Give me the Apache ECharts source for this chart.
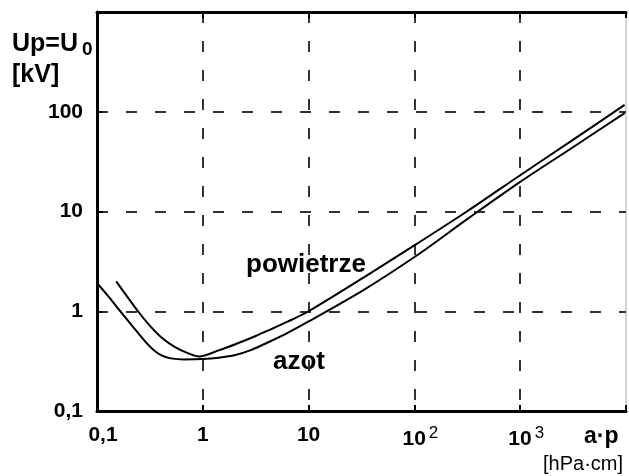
<!DOCTYPE html>
<html>
<head>
<meta charset="utf-8">
<script src="https://cdn.jsdelivr.net/npm/echarts@6/dist/echarts.min.js"></script>
<style>
	html, body { margin: 0; padding: 0; background: #fff; }
	#chart { width: 629px; height: 476px; }
</style>
</head>
<body>
<div id="chart"></div>
<script>
// 	dane (a·p [hPa·cm], Up [kV])
const powietrzeX = [0.152, 0.2, 0.244, 0.32, 0.41, 0.546, 0.74, 0.92, 1.41, 2.03, 3.12, 4.16, 6.41, 10, 33.6, 106, 313, 1000, 3000, 9700];
const powietrzeY = [1.99, 1.33, 1.0, 0.705, 0.542, 0.437, 0.376, 0.352, 0.405, 0.467, 0.562, 0.642, 0.79, 1.0, 2.2, 4.76, 10, 23.1, 50.5, 117];

const azotX = [0.1, 0.131, 0.166, 0.218, 0.286, 0.347, 0.41, 0.5, 0.664, 1.0, 1.41, 2.03, 2.88, 4.16, 6.41, 10, 33.6, 106, 313, 1000, 3000, 9700];
const azotY = [1.92, 1.37, 1.0, 0.702, 0.496, 0.405, 0.36, 0.337, 0.329, 0.332, 0.342, 0.364, 0.41, 0.489, 0.611, 0.79, 1.65, 3.64, 8.33, 19.8, 42.6, 97];

const xTickLabels = ['0,1', '1', '10', '10^2', '10^3', ''];
const yTickLabels = ['0,1', '1', '10', '100', ''];

(function() {
	let myChart = echarts.init(document.getElementById('chart'));

	function pairs(xs, ys) {
		return xs.map(function(x, i) { return [x, ys[i]]; });
	}
	function idx(v, base) {
		return Math.round(Math.log10(v) - Math.log10(base));
	}

	let dashed = {
		show: true,
		lineStyle: { color: '#333', width: 2, type: [11, 18] }
	};
	let font = 'Liberation Sans, Arial, sans-serif';

	let option = {
		backgroundColor: '#fff',
		animation: false,
		grid: {
			left: 97,
			right: 0,
			top: 12,
			bottom: 65,
			show: true,
			borderColor: '#aaa',
			borderWidth: 1
		},
		xAxis: [
			{
				type: 'log',
				logBase: 10,
				min: 0.1,
				max: 10000,
				axisLine: { show: true, onZero: false, lineStyle: { color: '#000', width: 3 } },
				axisTick: { show: true, inside: true, length: 6, lineStyle: { color: '#000', width: 2 } },
				splitLine: Object.assign({ showMinLine: false, showMaxLine: false }, dashed),
				axisLabel: {
					color: '#000',
					fontFamily: font,
					fontWeight: 'bold',
					fontSize: 21,
					margin: 14,
					formatter: function(v) {
						let s = xTickLabels[idx(v, 0.1)] || '';
						let m = s.split('^');
						if (m.length === 2) return '{pad|}' + m[0] + '{sup|' + m[1] + '}';
						if (s === '0,1') return '{pad|}' + s;
						return s;
					},
					rich: {
						sup: { fontSize: 17, fontWeight: 'normal', fontFamily: font, color: '#000', padding: [0, 0, 12, 3] },
						pad: { width: 12 }
					}
				}
			},
			{
				type: 'log',
				logBase: 10,
				min: 0.1,
				max: 10000,
				position: 'top',
				axisLine: { show: true, onZero: false, lineStyle: { color: '#000', width: 3 } },
				axisTick: { show: true, inside: true, length: 6, lineStyle: { color: '#000', width: 2 } },
				axisLabel: { show: false },
				splitLine: { show: false }
			}
		],
		yAxis: {
			type: 'log',
			logBase: 10,
			min: 0.1,
			max: 1000,
			axisLine: { show: true, onZero: false, lineStyle: { color: '#000', width: 3 } },
			axisTick: { show: true, inside: true, length: 6, lineStyle: { color: '#000', width: 2 } },
			splitLine: Object.assign({ showMinLine: false, showMaxLine: false }, dashed),
			axisLabel: {
				color: '#000',
				fontFamily: font,
				fontWeight: 'bold',
				fontSize: 21,
				margin: 14,
				formatter: function(v) {
					return yTickLabels[idx(v, 0.1)] || '';
				}
			}
		},
		series: [
			{
				name: 'powietrze',
				type: 'line',
				smooth: 0.3,
				showSymbol: false,
				lineStyle: { color: '#000', width: 2 },
				data: pairs(powietrzeX, powietrzeY)
			},
			{
				name: 'azot',
				type: 'line',
				smooth: 0.3,
				showSymbol: false,
				lineStyle: { color: '#000', width: 2 },
				data: pairs(azotX, azotY)
			}
		],
		graphic: [
			{
				type: 'text', left: 12, top: 32,
				style: {
					text: 'Up=U{sub|0}',
					font: 'bold 25px ' + font,
					fill: '#000',
					rich: { sub: { fontSize: 19, fontWeight: 'bold', fontFamily: font, fill: '#000', padding: [10, 0, 0, 4] } }
				}
			},
			{ type: 'text', left: 12, top: 63, style: { text: '[kV]', font: 'bold 25px ' + font, fill: '#000' } },
			{ type: 'text', left: 246, top: 252, style: { text: 'powietrze', font: 'bold 26px ' + font, fill: '#000' } },
			{ type: 'text', left: 273, top: 349, style: { text: 'azot', font: 'bold 26px ' + font, fill: '#000' } },
			{ type: 'text', left: 584, top: 425, style: { text: 'a·p', font: 'bold 23px ' + font, fill: '#000' } },
			{ type: 'text', left: 543, top: 454, style: { text: '[hPa·cm]', font: '20px ' + font, fill: '#000' } }
		]
	};

	myChart.setOption(option);

	window.addEventListener('resize', function() {
		myChart.resize();
	})
})();
</script>
</body>
</html>
